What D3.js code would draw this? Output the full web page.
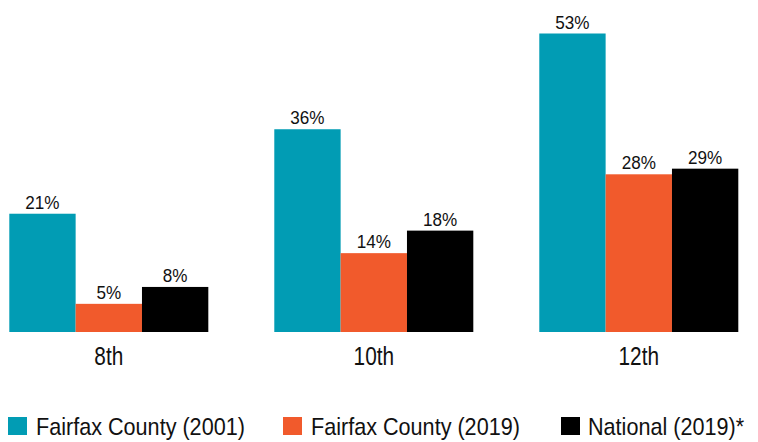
<!DOCTYPE html>
<html>
<head>
<meta charset="utf-8">
<script src="https://cdn.jsdelivr.net/npm/d3@7"></script>
<style>
  body { margin: 0; background: #fff; }
  text { font-family: "Liberation Sans", Arial, sans-serif; fill: #111; }
</style>
</head>
<body>
<div id="chart"></div>
<script>
// data
var grades = ["8th", "10th", "12th"];
var seriesNames = ["Fairfax County (2001)", "Fairfax County (2019)", "National (2019)*"];
var fairfax2001 = [21, 36, 53];
var fairfax2019 = [5, 14, 28];
var national2019 = [8, 18, 29];
var colors = ["#019cb4", "#f15a2c", "#000000"];

var width = 758, height = 442;
var values = [fairfax2001, fairfax2019, national2019];

var svg = d3.select("#chart")
  .append("svg")
  .attr("width", width)
  .attr("height", height);

var x0 = d3.scaleBand()
  .domain(grades)
  .range([9.3, 738.3])
  .paddingInner(0.249)
  .paddingOuter(0);

var x1 = d3.scaleBand()
  .domain(d3.range(seriesNames.length))
  .range([0, x0.bandwidth()]);

var y = d3.scaleLinear()
  .domain([0, 53])
  .range([332, 33.5]);

var rows = [];
grades.forEach(function(g, gi) {
  values.forEach(function(v, si) {
    rows.push({ grade: g, s: si, value: v[gi] });
  });
});

var bars = svg.append("g");

bars.selectAll("rect")
  .data(rows)
  .join("rect")
  .attr("x", d => x0(d.grade) + x1(d.s))
  .attr("y", d => y(d.value))
  .attr("width", x1.bandwidth())
  .attr("height", d => y(0) - y(d.value))
  .attr("fill", d => colors[d.s]);

// narrow-looking text: squeeze horizontally
bars.selectAll("text")
  .data(rows)
  .join("text")
  .attr("transform", d => "translate(" + (x0(d.grade) + x1(d.s) + x1.bandwidth() / 2) + "," + (y(d.value) - 5) + ") scale(0.9,1)")
  .attr("text-anchor", "middle")
  .style("font-size", "19px")
  .text(d => d.value + "%");

// category labels
var xAxis = d3.axisBottom(x0).tickSize(0).tickPadding(0);
var ax = svg.append("g")
  .attr("transform", "translate(0,332)")
  .call(xAxis);
ax.select(".domain").remove();
ax.selectAll("text")
  .attr("dy", null)
  .attr("y", 0)
  .attr("transform", "translate(0,33) scale(0.8,1)")
  .style("font-size", "26px")
  .style("font-family", "'Liberation Sans', Arial, sans-serif")
  .attr("fill", "#111");

// legend
var legendX = [8, 283, 561];
var legend = svg.append("g")
  .selectAll("g")
  .data(seriesNames)
  .join("g")
  .attr("transform", (d, i) => "translate(" + legendX[i] + ",417)");

legend.append("rect")
  .attr("width", 19)
  .attr("height", 18)
  .attr("fill", (d, i) => colors[i]);

legend.append("text")
  .attr("transform", (d, i) => "translate(" + (i == 2 ? 27 : 28) + ",18) scale(0.9,1)")
  .style("font-size", "24px")
  .text(d => d);
</script>
</body>
</html>
